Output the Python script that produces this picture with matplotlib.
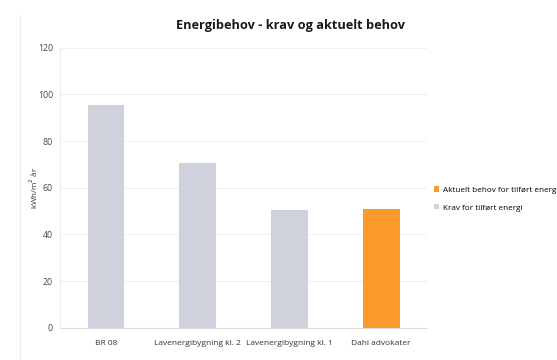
import matplotlib
matplotlib.use("Agg")
import matplotlib.pyplot as plt
from matplotlib.patches import Patch
from matplotlib.lines import Line2D

# Energy demand per building category (kWh/m² per year)
categories = ["BR 08", "Lavenergibygning kl. 2", "Lavenergibygning kl. 1", "Dahl advokater"]
values = [95.5, 70.5, 50.3, 50.7]
series = ["krav", "krav", "krav", "aktuelt"]

series_labels = {
    "aktuelt": "Aktuelt behov for tilført energi",
    "krav": "Krav for tilført energi",
}
series_colors = {"aktuelt": "#fa9a2b", "krav": "#cfd1dc"}

yticks = [0, 20, 40, 60, 80, 100, 120]

plt.rcParams["font.family"] = ["Open Sans", "DejaVu Sans"]

fig = plt.figure(figsize=(5.57, 3.6), dpi=100)
fig.patch.set_facecolor("white")
ax = fig.add_axes([0.1077, 0.0897, 0.659, 0.7778])

x = list(range(len(categories)))
ax.bar(x, values, width=0.4, color=[series_colors[s] for s in series], zorder=2)

ax.set_xlim(-0.5, len(categories) - 0.5)
ax.set_ylim(0, 120)
ax.set_yticks(yticks)
ax.set_xticks(x)
ax.set_xticklabels(categories, fontsize=6, color="#333333")
ax.tick_params(axis="y", labelsize=6.3, labelcolor="#444444", length=0, pad=5)
ax.tick_params(axis="x", length=0, pad=9)
ax.grid(axis="y", color="#f1f1f1", linewidth=0.8, zorder=0)

for side in ["top", "right"]:
    ax.spines[side].set_visible(False)
ax.spines["left"].set_color("#eeeeee")
ax.spines["left"].set_linewidth(0.8)
ax.spines["bottom"].set_color("#dddddd")
ax.spines["bottom"].set_linewidth(0.8)

ax.set_ylabel("kWh/m$^2$ år", fontsize=5.8, color="#333333")
ax.yaxis.set_label_coords(-0.055, 0.5)

fig.text(0.521, 0.93, "Energibehov - krav og aktuelt behov", fontsize=9.2,
         fontweight="bold", color="#1a1a1a", ha="center", va="center")

# faint outer border of the chart area
fig.add_artist(Line2D([20 / 557, 20 / 557], [0.0, 0.958], color="#ececec",
                      linewidth=0.8, transform=fig.transFigure))

handles = [Patch(facecolor=series_colors[k], edgecolor="none", label=series_labels[k])
           for k in ["aktuelt", "krav"]]
fig.legend(handles=handles, loc="upper left", bbox_to_anchor=(0.779, 0.482),
           frameon=False, fontsize=5.9, handlelength=0.6, handleheight=0.6,
           handletextpad=0.45, labelspacing=1.25, borderaxespad=0, borderpad=0)

fig.savefig("out.png", dpi=100, facecolor="white")
